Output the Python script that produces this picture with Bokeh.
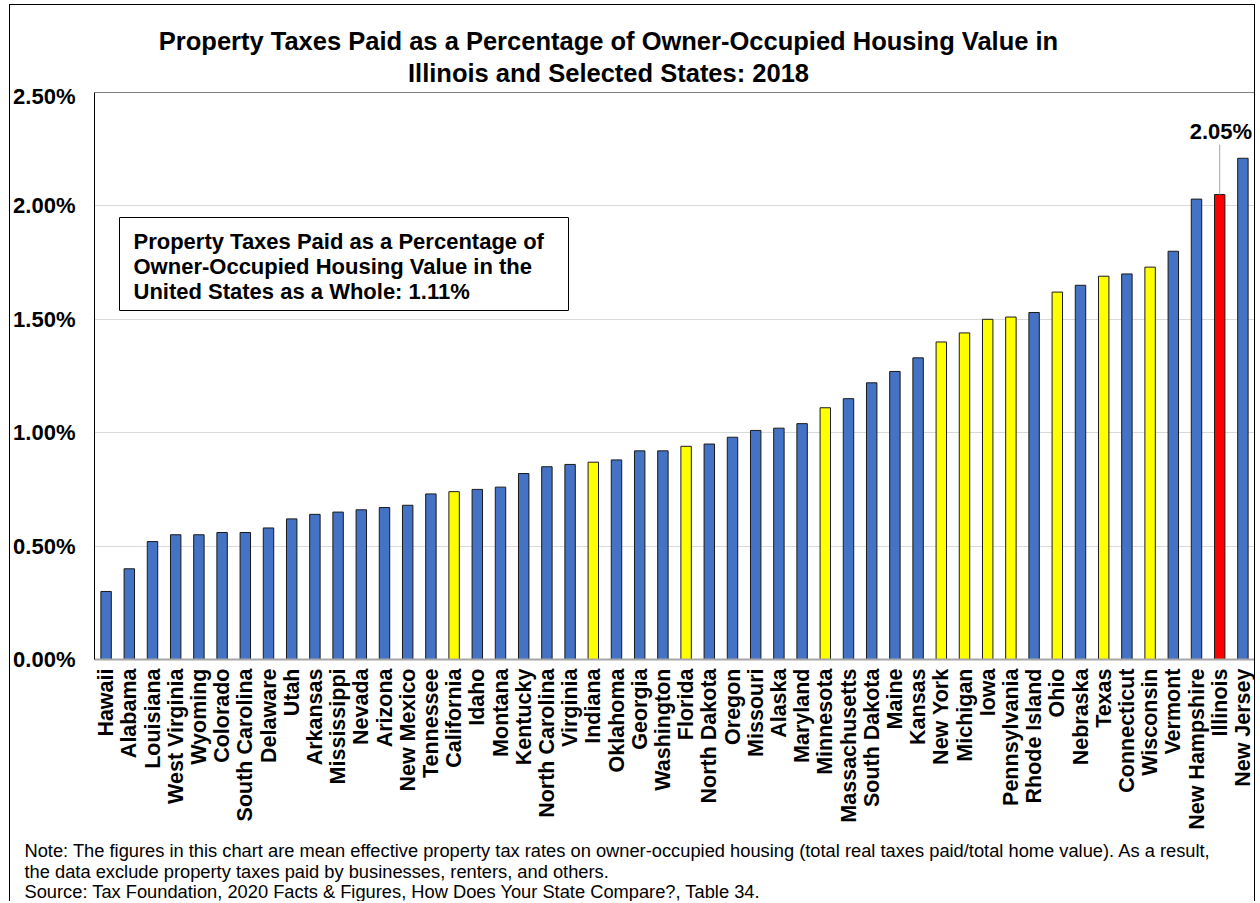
import math
from bokeh.plotting import figure
from bokeh.layouts import column
from bokeh.models import (FactorRange, Range1d, FixedTicker, PrintfTickFormatter,
                          Label, BoxAnnotation, Span, ColumnDataSource)
from bokeh.embed import file_html
from bokeh.resources import INLINE

# ---------------- data ----------------
states = ["Hawaii", "Alabama", "Louisiana", "West Virginia", "Wyoming", "Colorado",
          "South Carolina", "Delaware", "Utah", "Arkansas", "Mississippi", "Nevada",
          "Arizona", "New Mexico", "Tennessee", "California", "Idaho", "Montana",
          "Kentucky", "North Carolina", "Virginia", "Indiana", "Oklahoma", "Georgia",
          "Washington", "Florida", "North Dakota", "Oregon", "Missouri", "Alaska",
          "Maryland", "Minnesota", "Massachusetts", "South Dakota", "Maine", "Kansas",
          "New York", "Michigan", "Iowa", "Pennsylvania", "Rhode Island", "Ohio",
          "Nebraska", "Texas", "Connecticut", "Wisconsin", "Vermont", "New Hampshire",
          "Illinois", "New Jersey"]
rates = [0.30, 0.40, 0.52, 0.55, 0.55, 0.56,
         0.56, 0.58, 0.62, 0.64, 0.65, 0.66,
         0.67, 0.68, 0.73, 0.74, 0.75, 0.76,
         0.82, 0.85, 0.86, 0.87, 0.88, 0.92,
         0.92, 0.94, 0.95, 0.98, 1.01, 1.02,
         1.04, 1.11, 1.15, 1.22, 1.27, 1.33,
         1.40, 1.44, 1.50, 1.51, 1.53, 1.62,
         1.65, 1.69, 1.70, 1.73, 1.80, 2.03,
         2.05, 2.21]
selected_states = ["California", "Indiana", "Florida", "Minnesota", "New York",
                   "Michigan", "Iowa", "Pennsylvania", "Ohio", "Texas", "Wisconsin"]
focus_state = "Illinois"
y_ticks = [0.0, 0.5, 1.0, 1.5, 2.0, 2.5]
title_lines = ["Property Taxes Paid as a Percentage of Owner-Occupied Housing Value in",
               "Illinois and Selected States: 2018"]
box_lines = ["Property Taxes Paid as a Percentage of",
             "Owner-Occupied Housing Value in the",
             "United States as a Whole: 1.11%"]
note_lines = ["Note: The figures in this chart are mean effective property tax rates on owner-occupied housing (total real taxes paid/total home value). As a result,",
              "the data exclude property taxes paid by businesses, renters, and others.",
              "Source: Tax Foundation, 2020 Facts & Figures, How Does Your State Compare?, Table 34."]

BLUE, YELLOW, RED = "#4472C4", "#FFFF00", "#FF0000"
colors = [RED if s == focus_state else (YELLOW if s in selected_states else BLUE)
          for s in states]
source = ColumnDataSource(dict(state=states, rate=rates, color=colors))

FONT = "Liberation Sans"
W = 1244
OVERLAP = 8
H_TITLE, H_MAIN, H_NOTE = 78 + OVERLAP, 756, 62
FRAME_TOP, FRAME_BOTTOM, FRAME_LEFT = 9, 576, 83


def blank_fig(h):
    f = figure(width=W, height=h, x_range=Range1d(0, W), y_range=Range1d(0, h),
               output_backend="svg", toolbar_location=None, min_border=0,
               outline_line_color=None, x_axis_type=None, y_axis_type=None,
               background_fill_color="white", border_fill_color="white")
    try:
        f.frame_align = False
    except Exception:
        pass
    return f


# ---------------- title ----------------
t = blank_fig(H_TITLE)
for txt, y in zip(title_lines, [43 + OVERLAP, 11 + OVERLAP]):
    t.add_layout(Label(x=598, y=y, x_units="screen", y_units="screen", text=txt,
                       text_align="center", text_baseline="alphabetic",
                       text_font=FONT, text_font_style="bold",
                       text_font_size="25.5px", text_color="black"))

# ---------------- main chart ----------------
p = figure(x_range=FactorRange(factors=states, range_padding=0, factor_padding=0),
           y_range=Range1d(0, 2.5), width=W, height=H_MAIN,
           output_backend="svg", toolbar_location=None,
           min_border_left=FRAME_LEFT, min_border_right=0, min_border_top=FRAME_TOP,
           min_border_bottom=H_MAIN - FRAME_BOTTOM, outline_line_color=None,
           background_fill_color="white", border_fill_color="white",
           border_fill_alpha=0.0,
           styles={"margin-top": f"-{OVERLAP}px"})

p.vbar(x="state", top="rate", width=0.45, source=source, fill_color="color",
       line_color="#1a1a1a", line_width=1)

p.yaxis.ticker = FixedTicker(ticks=y_ticks)
p.yaxis.formatter = PrintfTickFormatter(format="%.2f%%")
p.yaxis.major_tick_line_color = None
p.yaxis.minor_tick_line_color = None
p.yaxis.major_label_standoff = 13
p.yaxis.major_label_text_font = FONT
p.yaxis.major_label_text_font_style = "bold"
p.yaxis.major_label_text_font_size = "22px"
p.yaxis.major_label_text_color = "black"
p.yaxis.axis_line_color = "black"

p.xaxis.major_label_orientation = math.pi / 2
p.xaxis.major_tick_line_color = None
p.xaxis.minor_tick_line_color = None
p.xaxis.major_label_standoff = 3
p.xaxis.major_label_text_font = FONT
p.xaxis.major_label_text_font_style = "bold"
p.xaxis.major_label_text_font_size = "21.5px"
p.xaxis.major_label_text_color = "black"
p.xaxis.axis_line_color = "#A6A6A6"
p.xaxis.axis_line_width = 2

p.xgrid.grid_line_color = None
p.ygrid.ticker = FixedTicker(ticks=y_ticks[1:-1])
p.ygrid.grid_line_color = "#D9D9D9"
p.ygrid.grid_line_width = 1

p.add_layout(Span(location=y_ticks[-1], dimension="width", line_color="black", line_width=1))

# annotation box
p.add_layout(BoxAnnotation(left=25, right=474, top=442, bottom=349,
                           left_units="screen", right_units="screen",
                           top_units="screen", bottom_units="screen",
                           fill_color="white", fill_alpha=1.0,
                           line_color="black", line_width=1, line_alpha=1.0))
for txt, y in zip(box_lines, [418, 393, 368]):
    p.add_layout(Label(x=39, y=y, x_units="screen", y_units="screen", text=txt,
                       text_align="left", text_baseline="alphabetic",
                       text_font=FONT, text_font_style="bold",
                       text_font_size="22px", text_color="black"))

# Illinois callout
il_idx = states.index(focus_state)
il_val = rates[il_idx]
p.segment(x0=[focus_state], y0=[il_val], x1=[focus_state], y1=[il_val + 0.22],
          line_color="#A6A6A6", line_width=1)
p.add_layout(Label(x=il_idx + 0.55, y=il_val + 0.28, text=f"{il_val:.2f}%",
                   text_align="center", text_baseline="alphabetic",
                   text_font=FONT, text_font_style="bold",
                   text_font_size="22px", text_color="black"))

# ---------------- notes ----------------
n = blank_fig(H_NOTE)
for txt, y in zip(note_lines, [51, 30.5, 10]):
    n.add_layout(Label(x=14, y=y, x_units="screen", y_units="screen", text=txt,
                       text_align="left", text_baseline="alphabetic",
                       text_font=FONT, text_font_size="18.3px", text_color="black"))

layout = column(t, p, n, spacing=0,
                styles={"border-top": "1px solid black",
                        "border-left": "1px solid black",
                        "border-right": "1px solid black",
                        "margin-left": "9px", "margin-top": "4px"})

open("out.html", "w").write(file_html(layout, INLINE, "Property Taxes"))
